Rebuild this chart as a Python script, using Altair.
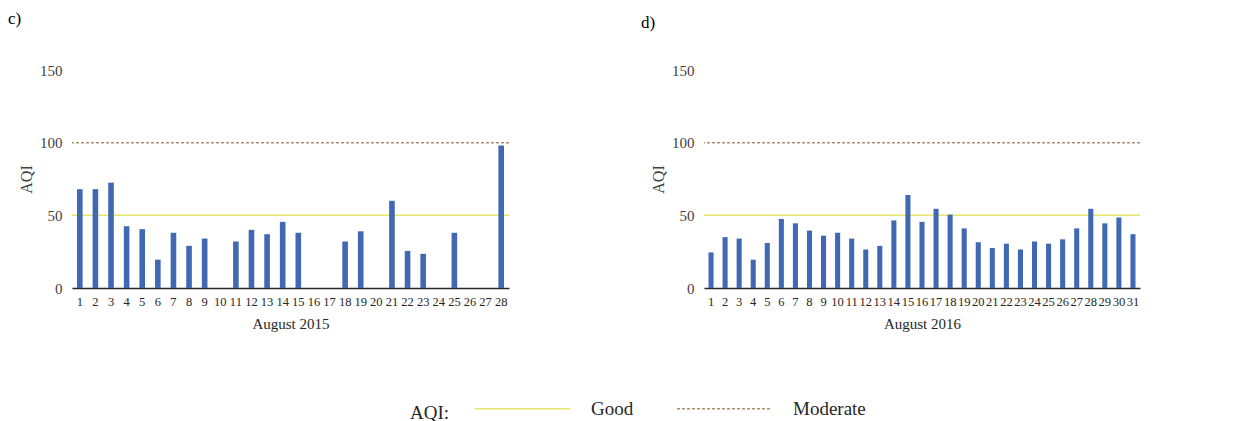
import altair as alt
import pandas as pd

days_2015 = list(range(1, 29))
aqi_2015 = [68, 68, 72.5, 42.5, 40.5, 19.5, 38, 29, 34, None, 32, 40, 37, 45.5, 38,
            None, None, 32, 39, None, 60, 25.5, 23.5, None, 38, None, None, 98]
days_2016 = list(range(1, 32))
aqi_2016 = [24.5, 35, 34, 19.5, 31, 47.5, 44.5, 39.5, 36, 38, 34, 26.5, 29, 46.5, 64,
            45.5, 54.5, 50.5, 41, 31.5, 27.5, 30.5, 26.5, 32, 30.5, 33.5, 41, 54.5,
            44.5, 48.5, 37]
levels = ["Good", "Moderate"]
level_values = [50, 100]
level_colors = ["#E6E66A", "#A89070"]
level_dash = [[1, 0], [3, 2]]
legend_title = ["", "AQI:"]

FONT = "Liberation Serif"
BAR = "#4169B3"

thr = pd.DataFrame({"level": levels, "value": level_values})


def panel(days, vals, xtitle, label, w, toff, tdx):
    df = pd.DataFrame({"day": days, "aqi": vals})
    bars = alt.Chart(df).mark_bar(color=BAR, width={"band": 0.4}).encode(
        x=alt.X("day:O", title=xtitle, scale=alt.Scale(domain=days),
                axis=alt.Axis(labelAngle=0, ticks=False, domainColor="#262626",
                              domainWidth=1.5, labelFont=FONT, labelFontSize=12.5,
                              labelColor="#262626", labelPadding=7,
                              titleFont=FONT, titleFontSize=15, titleFontWeight="normal",
                              titleColor="#262626", titlePadding=9)),
        y=alt.Y("aqi:Q", title="AQI", scale=alt.Scale(domain=[0, 150], nice=False),
                axis=alt.Axis(values=[0, 50, 100, 150], grid=False, ticks=False,
                              domain=False, labelFont=FONT, labelFontSize=15,
                              labelColor="#404040", labelPadding=10,
                              titleFont=FONT, titleFontSize=16, titleFontWeight="normal",
                              titleColor="#404040", titlePadding=5)),
    )
    rules = alt.Chart(thr).mark_rule(strokeWidth=1.5).encode(
        y=alt.Y("value:Q"),
        color=alt.Color("level:N", title=legend_title,
                        scale=alt.Scale(domain=levels, range=level_colors)),
        strokeDash=alt.StrokeDash("level:N", title=legend_title,
                                  scale=alt.Scale(domain=levels, range=level_dash)),
    )
    return alt.layer(rules, bars).properties(
        width=w, height=218,
        title=alt.TitleParams(label, anchor="start", frame="group", font=FONT,
                              fontSize=17, fontWeight="normal", color="#000000",
                              dx=tdx, offset=toff),
    )


left = panel(days_2015, aqi_2015, "August 2015", "c)", 437, 35, -64)
right = panel(days_2016, aqi_2016, "August 2016", "d)", 436, 31, -63)

chart = alt.hconcat(left, right, spacing=131).configure_view(stroke=None).configure_legend(
    orient="none", legendX=338, legendY=290, direction="horizontal",
    symbolType="stroke", symbolSize=9025, symbolStrokeWidth=1.5,
    labelFont=FONT, labelFontSize=19, labelColor="#262626", labelOffset=20,
    columnPadding=40, titleFont=FONT, titleFontSize=19, titleFontWeight="normal",
    titleColor="#262626", titleOrient="left", titlePadding=24,
    titleBaseline="top", titleLineHeight=29,
).properties(padding={"left": 0, "top": 2, "right": 0, "bottom": 0})

chart.save("out.html", embed_options={"renderer": "svg", "actions": False})
